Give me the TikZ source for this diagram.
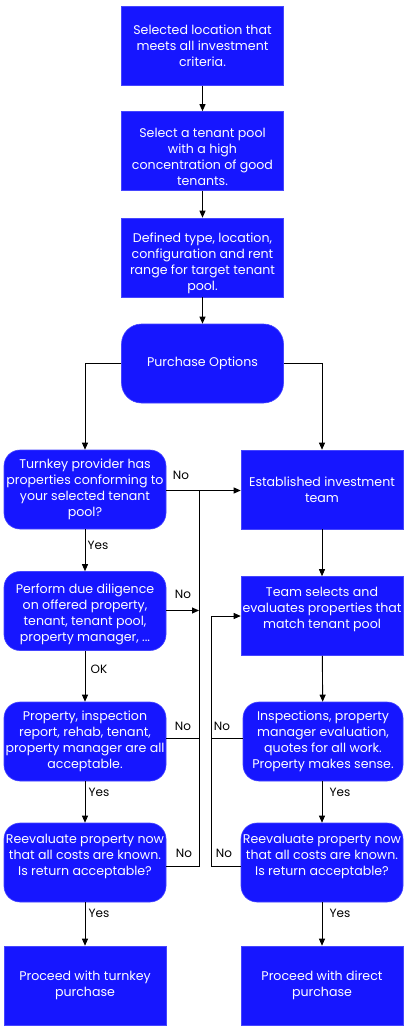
\documentclass[tikz,border=0pt]{standalone}
\usepackage{fontspec}
\setmainfont{Poppins}
\usetikzlibrary{arrows.meta,calc}
\definecolor{boxblue}{RGB}{22,22,255}
\tikzset{
  x=1pt, y=-1pt,
  txt/.style={text=white, align=center, font=\fontsize{12.6}{16}\selectfont, inner sep=0pt},
  base/.style={fill=boxblue, draw=boxblue!80!white, line width=0.6pt, txt},
  sq/.style={base, minimum width=162pt, minimum height=79pt},
  rd/.style={sq, rounded corners=16pt},
  conn/.style={line width=0.9pt, draw=black},
  arr/.style={conn, -{Triangle[length=7pt,width=6pt]}},
  lbl/.style={font=\fontsize{12}{13}\selectfont, text=black, inner sep=0pt}
}
\begin{document}
\begin{tikzpicture}
\useasboundingbox (0,0) rectangle (408,1033);
\fill[white] (0,0) rectangle (408,1033);
\node[sq] (b1) at (202.5,46) {Selected location that\\meets all investment\\criteria.};
\node[sq, label={[txt, yshift=-6pt]center:{Select a tenant pool\\with a high\\concentration of good\\tenants.}}] (b2) at (202.5,151) {};
\node[sq, label={[txt, yshift=-6pt]center:{Defined type, location,\\configuration and rent\\range for target tenant\\pool.}}] (b3) at (202.5,257.5) {};
\node[rd, rounded corners=20pt] (po) at (202.5,363.5) {Purchase Options};
\node[rd] (tk) at (85,489.5) {Turnkey provider has\\properties conforming to\\your selected tenant\\pool?};
\node[sq] (est) at (322,489.5) {Established investment\\team};
\node[rd, label={[txt, yshift=-3pt]center:{Perform due diligence\\on offered property,\\tenant, tenant pool,\\property manager, ...}}] (dd) at (85,611) {};
\node[sq, label={[txt, yshift=6.5pt]center:{Team selects and\\evaluates properties that\\match tenant pool}}] (team) at (322,616) {};
\node[rd, minimum width=160pt] (insp) at (323,741.5) {Inspections, property\\manager evaluation,\\quotes for all work.\\Property makes sense.};
\node[rd] (prop) at (85,741.5) {Property, inspection\\report, rehab, tenant,\\property manager are all\\acceptable.};
\node[rd, label={[txt, yshift=6.5pt]center:{Reevaluate property now\\that all costs are known.\\Is return acceptable?}}] (rl) at (85,862.5) {};
\node[rd, label={[txt, yshift=6.5pt]center:{Reevaluate property now\\that all costs are known.\\Is return acceptable?}}] (rr) at (322,862.5) {};
\node[sq] (fl) at (85,985.5) {Proceed with turnkey\\purchase};
\node[sq] (fr) at (322,985.5) {Proceed with direct\\purchase};

\coordinate (jl1) at (199,490.5);
\coordinate (jl2) at (199,610.5);
\coordinate (jl3) at (199,738);
\coordinate (jl4) at (199,866);
\coordinate (jr1) at (211,616);
\coordinate (jr3) at (211,738);
\coordinate (jr4) at (211,866);

\draw[arr] (b1) -- (b2);
\draw[arr] (b2) -- (b3);
\draw[arr] (b3) -- (po);
\draw[arr] (po.west) -| (tk.north);
\draw[arr] (po.east) -| (est.north);
\draw[arr] (tk.east |- jl1) -- (est.west |- jl1);
\draw[arr] (tk) -- (dd);
\draw[arr] (est) -- (team);
\draw[arr] (dd.east |- jl2) -- (jl2);
\draw[arr] (dd) -- (prop);
\draw[arr] (team) -- (insp);
\draw[conn] (prop.east |- jl3) -- (jl3);
\draw[conn] (insp.west |- jr3) -- (jr3);
\draw[arr] (prop) -- (rl);
\draw[arr] (insp.south -| rr.north) -- (rr);
\draw[conn] (rl.east |- jl4) -- (jl4) -- (jl1);
\draw[conn] (rr.west |- jr4) -- (jr4) -- (jr1);
\draw[arr] (jr1) -- (team.west |- jr1);
\draw[arr] (rl) -- (fl);
\draw[arr] (rr) -- (fr);

\node[lbl] (l1) at (181,475) {No};
\node[lbl] (l2) at (98,545) {Yes};
\node[lbl] (l3) at (183,594) {No};
\node[lbl] (l4) at (99,669) {OK};
\node[lbl] (l5) at (183,726) {No};
\node[lbl] (l6) at (222,726) {No};
\node[lbl] (l7) at (99,792) {Yes};
\node[lbl] (l8) at (340,792) {Yes};
\node[lbl] (l9) at (184,853) {No};
\node[lbl] (l10) at (224,853) {No};
\node[lbl] (l11) at (99,913) {Yes};
\node[lbl] (l12) at (340,913) {Yes};
\end{tikzpicture}
\end{document}
